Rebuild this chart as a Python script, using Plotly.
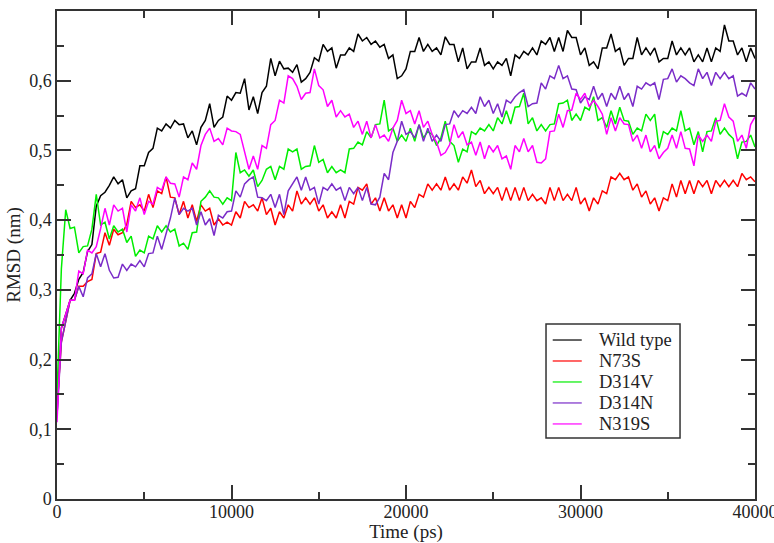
import plotly.graph_objects as go

# Sampling times (ps), one reading every 250 ps
time_ps = list(range(0, 40001, 250))

wild_type = [
    0.12, 0.245, 0.265, 0.285, 0.295, 0.315, 0.325, 0.355, 0.365, 0.42,
    0.435, 0.44, 0.45, 0.462, 0.452, 0.458, 0.432, 0.442, 0.445, 0.478,
    0.478, 0.497, 0.503, 0.532, 0.528, 0.538, 0.532, 0.543, 0.537, 0.538,
    0.518, 0.528, 0.508, 0.533, 0.543, 0.567, 0.533, 0.543, 0.548, 0.578,
    0.572, 0.583, 0.582, 0.603, 0.558, 0.577, 0.553, 0.583, 0.592, 0.632,
    0.607, 0.628, 0.617, 0.618, 0.612, 0.623, 0.598, 0.603, 0.612, 0.633,
    0.628, 0.652, 0.642, 0.647, 0.618, 0.637, 0.637, 0.647, 0.642, 0.667,
    0.657, 0.662, 0.652, 0.657, 0.648, 0.652, 0.632, 0.637, 0.603, 0.607,
    0.617, 0.642, 0.642, 0.662, 0.642, 0.652, 0.642, 0.647, 0.637, 0.663,
    0.652, 0.652, 0.627, 0.647, 0.617, 0.627, 0.627, 0.647, 0.622, 0.627,
    0.617, 0.627, 0.622, 0.632, 0.607, 0.637, 0.632, 0.642, 0.637, 0.647,
    0.637, 0.657, 0.652, 0.662, 0.642, 0.662, 0.642, 0.672, 0.662, 0.662,
    0.637, 0.647, 0.622, 0.627, 0.617, 0.647, 0.647, 0.667, 0.642, 0.647,
    0.622, 0.632, 0.632, 0.662, 0.637, 0.647, 0.637, 0.647, 0.627, 0.632,
    0.632, 0.657, 0.637, 0.647, 0.637, 0.647, 0.627, 0.637, 0.627, 0.647,
    0.627, 0.647, 0.642, 0.68, 0.657, 0.657, 0.637, 0.647, 0.627, 0.647,
    0.632,
]

n73s = [
    0.13, 0.225, 0.255, 0.285, 0.285, 0.305, 0.305, 0.312, 0.315, 0.352,
    0.354, 0.382, 0.364, 0.387, 0.379, 0.382, 0.394, 0.427, 0.418, 0.422,
    0.413, 0.437, 0.418, 0.442, 0.438, 0.462, 0.433, 0.432, 0.408, 0.427,
    0.403, 0.422, 0.398, 0.422, 0.413, 0.417, 0.393, 0.402, 0.393, 0.397,
    0.393, 0.412, 0.403, 0.427, 0.418, 0.422, 0.413, 0.432, 0.408, 0.417,
    0.393, 0.412, 0.403, 0.422, 0.413, 0.442, 0.423, 0.432, 0.423, 0.432,
    0.413, 0.422, 0.403, 0.412, 0.403, 0.422, 0.403, 0.427, 0.423, 0.447,
    0.443, 0.452, 0.423, 0.432, 0.413, 0.432, 0.413, 0.422, 0.403, 0.422,
    0.403, 0.427, 0.418, 0.437, 0.433, 0.452, 0.443, 0.452, 0.443, 0.462,
    0.443, 0.452, 0.443, 0.462, 0.453, 0.472, 0.448, 0.457, 0.438, 0.447,
    0.438, 0.447, 0.428, 0.447, 0.428, 0.447, 0.428, 0.447, 0.428, 0.437,
    0.428, 0.432, 0.423, 0.447, 0.428, 0.447, 0.428, 0.437, 0.428, 0.447,
    0.423, 0.432, 0.413, 0.432, 0.423, 0.442, 0.438, 0.462, 0.458, 0.467,
    0.458, 0.462, 0.443, 0.452, 0.433, 0.442, 0.423, 0.432, 0.413, 0.432,
    0.428, 0.452, 0.433, 0.457, 0.438, 0.457, 0.438, 0.457, 0.448, 0.457,
    0.438, 0.457, 0.448, 0.457, 0.448, 0.457, 0.448, 0.467, 0.458, 0.462,
    0.455,
]

d314v = [
    0.15, 0.33, 0.415, 0.388, 0.39, 0.353, 0.362, 0.363, 0.387, 0.437,
    0.393, 0.397, 0.373, 0.392, 0.383, 0.387, 0.368, 0.377, 0.348, 0.357,
    0.353, 0.377, 0.373, 0.392, 0.383, 0.392, 0.383, 0.387, 0.363, 0.367,
    0.358, 0.382, 0.383, 0.427, 0.433, 0.442, 0.433, 0.432, 0.423, 0.432,
    0.428, 0.497, 0.468, 0.472, 0.463, 0.472, 0.448, 0.457, 0.473, 0.477,
    0.458, 0.477, 0.473, 0.502, 0.498, 0.502, 0.473, 0.477, 0.478, 0.507,
    0.483, 0.487, 0.468, 0.477, 0.468, 0.472, 0.468, 0.502, 0.503, 0.512,
    0.508, 0.527, 0.518, 0.537, 0.538, 0.572, 0.528, 0.532, 0.513, 0.522,
    0.513, 0.532, 0.513, 0.537, 0.518, 0.527, 0.523, 0.507, 0.518, 0.542,
    0.513, 0.507, 0.483, 0.502, 0.498, 0.527, 0.523, 0.532, 0.528, 0.537,
    0.528, 0.547, 0.538, 0.557, 0.538, 0.562, 0.563, 0.582, 0.538, 0.547,
    0.528, 0.537, 0.528, 0.537, 0.538, 0.567, 0.568, 0.572, 0.543, 0.552,
    0.543, 0.562, 0.558, 0.577, 0.543, 0.547, 0.533, 0.557, 0.538, 0.562,
    0.543, 0.542, 0.523, 0.532, 0.528, 0.552, 0.543, 0.552, 0.503, 0.527,
    0.523, 0.532, 0.528, 0.557, 0.528, 0.532, 0.508, 0.527, 0.498, 0.527,
    0.528, 0.547, 0.523, 0.532, 0.523, 0.517, 0.488, 0.512, 0.513, 0.522,
    0.505,
]

d314n = [
    0.12, 0.225, 0.255, 0.285, 0.285, 0.305, 0.29, 0.317, 0.323, 0.352,
    0.333, 0.352, 0.328, 0.317, 0.318, 0.337, 0.328, 0.337, 0.333, 0.342,
    0.333, 0.352, 0.353, 0.377, 0.358, 0.382, 0.403, 0.432, 0.408, 0.417,
    0.413, 0.417, 0.393, 0.412, 0.393, 0.402, 0.378, 0.407, 0.403, 0.412,
    0.413, 0.442, 0.433, 0.452, 0.458, 0.462, 0.433, 0.432, 0.428, 0.437,
    0.418, 0.437, 0.408, 0.442, 0.453, 0.462, 0.443, 0.462, 0.443, 0.447,
    0.423, 0.447, 0.443, 0.452, 0.443, 0.447, 0.428, 0.447, 0.438, 0.447,
    0.428, 0.447, 0.423, 0.422, 0.433, 0.467, 0.458, 0.497, 0.513, 0.542,
    0.523, 0.527, 0.518, 0.537, 0.513, 0.532, 0.513, 0.522, 0.513, 0.537,
    0.538, 0.557, 0.548, 0.557, 0.553, 0.562, 0.553, 0.577, 0.563, 0.572,
    0.553, 0.567, 0.548, 0.572, 0.568, 0.577, 0.583, 0.587, 0.563, 0.567,
    0.568, 0.597, 0.588, 0.607, 0.603, 0.622, 0.603, 0.607, 0.588, 0.587,
    0.568, 0.577, 0.573, 0.592, 0.573, 0.582, 0.563, 0.582, 0.573, 0.592,
    0.573, 0.582, 0.563, 0.592, 0.588, 0.597, 0.593, 0.597, 0.573, 0.602,
    0.603, 0.617, 0.598, 0.607, 0.603, 0.597, 0.593, 0.617, 0.603, 0.612,
    0.593, 0.612, 0.603, 0.612, 0.603, 0.607, 0.578, 0.582, 0.578, 0.597,
    0.588,
]

n319s = [
    0.11, 0.245, 0.265, 0.285, 0.285, 0.327, 0.323, 0.357, 0.353, 0.362,
    0.388, 0.417, 0.393, 0.422, 0.413, 0.417, 0.383, 0.422, 0.413, 0.432,
    0.408, 0.427, 0.423, 0.447, 0.443, 0.462, 0.453, 0.452, 0.433, 0.462,
    0.458, 0.482, 0.473, 0.507, 0.523, 0.532, 0.513, 0.517, 0.508, 0.532,
    0.528, 0.527, 0.523, 0.497, 0.473, 0.492, 0.473, 0.507, 0.503, 0.537,
    0.543, 0.572, 0.568, 0.607, 0.603, 0.592, 0.573, 0.582, 0.583, 0.617,
    0.593, 0.587, 0.563, 0.572, 0.548, 0.557, 0.548, 0.552, 0.533, 0.542,
    0.523, 0.542, 0.518, 0.537, 0.518, 0.522, 0.513, 0.532, 0.543, 0.572,
    0.553, 0.557, 0.538, 0.557, 0.533, 0.542, 0.523, 0.512, 0.493, 0.497,
    0.508, 0.537, 0.518, 0.527, 0.508, 0.512, 0.493, 0.512, 0.488, 0.507,
    0.498, 0.507, 0.488, 0.492, 0.473, 0.507, 0.498, 0.517, 0.498, 0.507,
    0.483, 0.482, 0.488, 0.527, 0.528, 0.552, 0.533, 0.557, 0.558, 0.582,
    0.573, 0.582, 0.563, 0.572, 0.563, 0.552, 0.523, 0.547, 0.528, 0.547,
    0.538, 0.537, 0.513, 0.522, 0.503, 0.522, 0.498, 0.507, 0.488, 0.497,
    0.503, 0.522, 0.503, 0.527, 0.503, 0.502, 0.478, 0.522, 0.513, 0.522,
    0.513, 0.542, 0.543, 0.567, 0.548, 0.542, 0.513, 0.522, 0.503, 0.537,
    0.548,
]

series_names = ["Wild type", "N73S", "D314V", "D314N", "N319S"]
series_values = [wild_type, n73s, d314v, d314n, n319s]
series_colors = ["#000000", "#ff0000", "#00ee00", "#7a2cc8", "#ff00ff"]

x_tick_vals = [0, 10000, 20000, 30000, 40000]
x_tick_text = ["0", "10000", "20000", "30000", "40000"]
y_tick_vals = [0, 0.1, 0.2, 0.3, 0.4, 0.5, 0.6]
y_tick_text = ["0", "0,1", "0,2", "0,3", "0,4", "0,5", "0,6"]

FONT = "Liberation Serif, Times New Roman, serif"
AX = "#333333"
TXT = "#222222"

fig = go.Figure()
for name, vals, col in zip(series_names, series_values, series_colors):
    fig.add_trace(go.Scatter(
        x=time_ps, y=vals, mode="lines", name=name,
        line=dict(color=col, width=1.5), showlegend=False,
    ))

# Legend box (xmgrace style: compact rows), built in paper coordinates
LEG_X0, LEG_X1, LEG_Y0, LEG_Y1 = 0.7006, 0.8926, 0.125, 0.3586
ROW_TOP, ROW_STEP = 0.3258, 0.043
shapes = [dict(type="rect", xref="paper", yref="paper",
               x0=LEG_X0, x1=LEG_X1, y0=LEG_Y0, y1=LEG_Y1,
               line=dict(color=AX, width=1.5), fillcolor="white", layer="above")]
annotations = []
for i, (name, col) in enumerate(zip(series_names, series_colors)):
    yy = ROW_TOP - i * ROW_STEP
    shapes.append(dict(type="line", xref="paper", yref="paper",
                       x0=0.7102, x1=0.7518, y0=yy, y1=yy,
                       line=dict(color=col, width=1.2), layer="above"))
    annotations.append(dict(xref="paper", yref="paper", x=0.7736, y=yy,
                            xanchor="left", yanchor="middle", showarrow=False,
                            text=name, font=dict(family=FONT, size=18.5, color=TXT)))

fig.update_layout(
    width=774, height=543,
    margin=dict(l=57, r=19, t=11, b=44),
    paper_bgcolor="white", plot_bgcolor="white",
    font=dict(family=FONT, color=TXT, size=18),
    showlegend=False,
    shapes=shapes, annotations=annotations,
)

fig.update_xaxes(
    range=[0, 40000], showgrid=False, zeroline=False, automargin=False,
    showline=True, linecolor=AX, linewidth=1.5, mirror="ticks",
    ticks="inside", ticklen=14, tickwidth=1.5, tickcolor=AX,
    tickmode="array", tickvals=x_tick_vals, ticktext=x_tick_text,
    tickfont=dict(family=FONT, size=18, color=TXT),
    ticklabeloverflow="allow", ticklabelstandoff=-4,
    minor=dict(tickmode="array", tickvals=[5000, 15000, 25000, 35000],
               ticks="inside", ticklen=7, tickwidth=1.5, tickcolor=AX),
    title=dict(text="Time (ps)", font=dict(family=FONT, size=19, color=TXT),
               standoff=1),
)
fig.update_yaxes(
    range=[0, 0.7], showgrid=False, zeroline=False, automargin=False,
    showline=True, linecolor=AX, linewidth=1.5, mirror="ticks",
    ticks="inside", ticklen=14, tickwidth=1.5, tickcolor=AX,
    tickmode="array", tickvals=y_tick_vals, ticktext=y_tick_text,
    tickfont=dict(family=FONT, size=18, color=TXT),
    minor=dict(tickmode="array",
               tickvals=[0.05, 0.15, 0.25, 0.35, 0.45, 0.55, 0.65],
               ticks="inside", ticklen=7, tickwidth=1.5, tickcolor=AX),
    title=dict(text="RMSD (nm)", font=dict(family=FONT, size=19, color=TXT),
               standoff=4),
)

fig.write_html("out.html")
